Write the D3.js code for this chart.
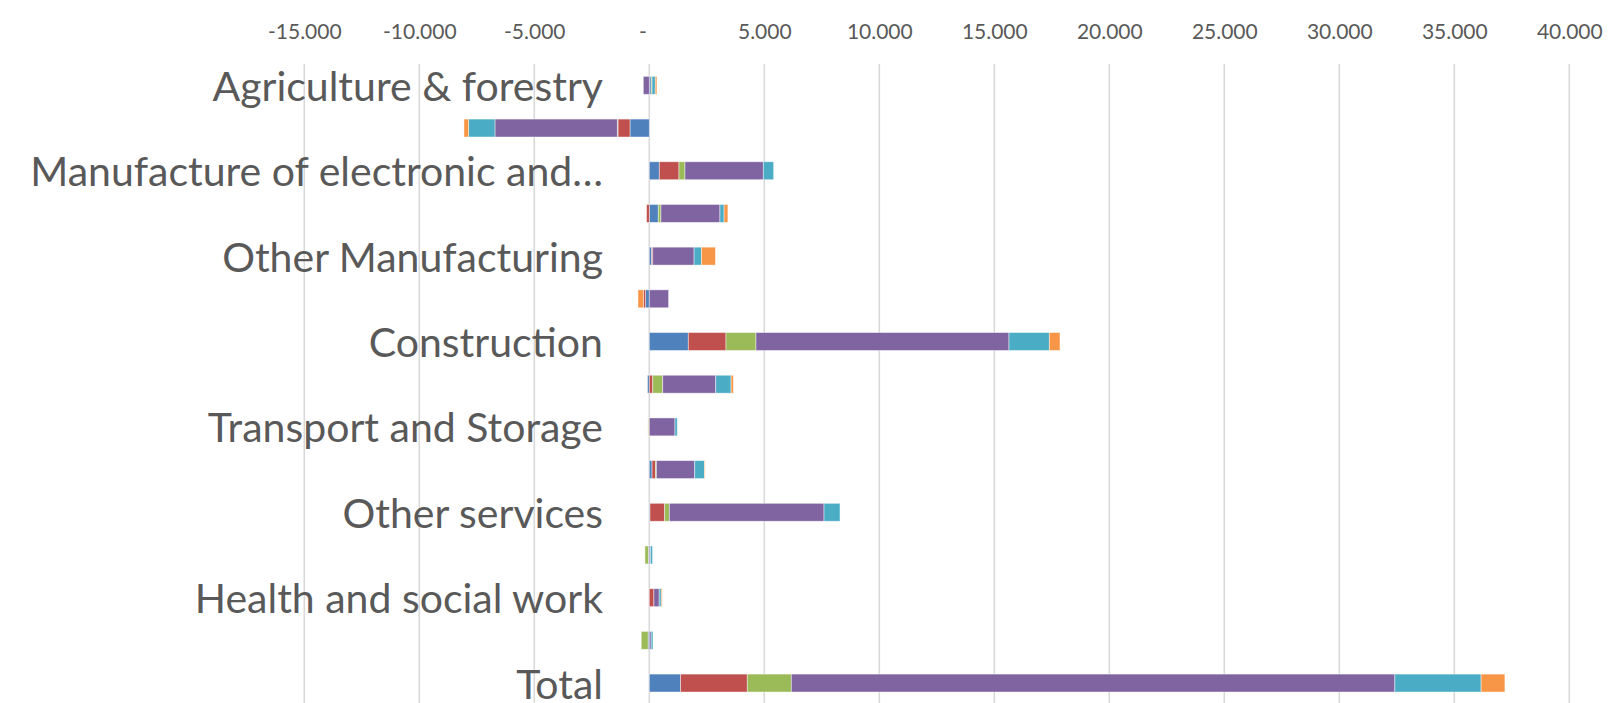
<!DOCTYPE html>
<html>
<head>
<meta charset="utf-8">
<script src="https://cdn.jsdelivr.net/npm/d3@7/dist/d3.min.js"></script>
<style>
  html, body { margin: 0; padding: 0; background: #ffffff; }
  svg { display: block; }
  text { font-family: Lato, "Open Sans", "Liberation Sans", sans-serif; fill: #595959; }
</style>
</head>
<body>
<svg id="chart" width="1613" height="703"></svg>
<script>
// Sectors, top to bottom
const sectors = [
  "Agriculture & forestry",
  "Manufacture of food products",
  "Manufacture of electronic and optical products",
  "Manufacture of machinery",
  "Other Manufacturing",
  "Energy and water supply",
  "Construction",
  "Wholesale and retail trade",
  "Transport and Storage",
  "Information and communication",
  "Other services",
  "Financial and insurance",
  "Health and social work",
  "Public administration",
  "Total"
];

// Series names (stack order, outwards from zero)
const seriesNames = ["2016", "2017", "2018", "2019", "2020", "2021"];

// Values per series, one entry per sector
const s2016 = [80, -840, 435, 390, 100, -160, 1696, -80, 0, 120, 30, -40, 0, -50, 1360];
const s2017 = [0, -522, 855, -120, 50, -100, 1638, 150, -30, 145, 638, 0, 200, 0, 2900];
const s2018 = [40, -30, 261, 116, 0, 0, 1304, 435, -30, 43, 203, -150, 0, -300, 1915];
const s2019 = [-260, -5319, 3406, 2565, 1797, 840, 11000, 2304, 1116, 1667, 6725, 50, 230, 80, 26240];
const s2020 = [140, -1145, 449, 180, 319, 0, 1754, 667, 100, 420, 696, 90, 90, 80, 3750];
const s2021 = [70, -203, 0, 165, 609, -232, 464, 100, 0, 30, 0, 0, 40, 0, 1035];

// Axis ticks
const tickValues = [-15000, -10000, -5000, 0, 5000, 10000, 15000, 20000, 25000, 30000, 35000, 40000];

const seriesValues = [s2016, s2017, s2018, s2019, s2020, s2021];
const colors = ["#4F81BD", "#C0504D", "#9BBB59", "#8064A2", "#4BACC6", "#F79646"];

const rows = sectors.map((name, i) => {
  const r = { sector: name };
  seriesNames.forEach((s, j) => { r[s] = seriesValues[j][i]; });
  return r;
});

const svg = d3.select("#chart");

const x = d3.scaleLinear()
  .domain([-15000, 40000])
  .range([304.3, 1569.3]);

const y = d3.scaleBand()
  .domain(sectors)
  .range([64, 704.4])
  .paddingInner(0.58)
  .paddingOuter(0.29);

// Vertical gridlines
svg.append("g")
  .selectAll("line")
  .data(tickValues)
  .join("line")
  .attr("x1", d => x(d)).attr("x2", d => x(d))
  .attr("y1", 64).attr("y2", 703)
  .attr("stroke", "#d9d9d9")
  .attr("stroke-width", 1.6);

// Top value axis: thousands with a dot, zero shown as a dash
const fmt = d => d === 0 ? "-" : d3.format(",")(d).replace(/,/g, ".").replace("\u2212", "-");
const xAxis = d3.axisTop(x)
  .tickValues(tickValues)
  .tickSize(0)
  .tickPadding(0)
  .tickFormat(fmt);

const axisG = svg.append("g")
  .attr("transform", "translate(0,39)")
  .call(xAxis);
axisG.select(".domain").remove();
axisG.selectAll("text")
  .style("font-size", "21px")
  .attr("fill", "#595959")
  .attr("dx", d => d === 0 ? -7 : 0);

// Stacked bars (negatives stack leftwards from zero)
const stack = d3.stack()
  .keys(seriesNames)
  .offset(d3.stackOffsetDiverging);
const layers = stack(rows);

svg.append("g")
  .selectAll("g")
  .data(layers)
  .join("g")
  .attr("fill", (d, i) => colors[i])
  .selectAll("rect")
  .data(d => d)
  .join("rect")
  .attr("x", d => x(Math.min(d[0], d[1])))
  .attr("width", d => Math.abs(x(d[1]) - x(d[0])))
  .attr("y", d => y(d.data.sector))
  .attr("height", y.bandwidth())
  .attr("stroke", "#ffffff")
  .attr("stroke-opacity", 0.55)
  .attr("stroke-width", 0.8);

// Category labels (every other sector), long names shortened with an ellipsis
const labelRight = 603;
const maxLabelWidth = 600;
const labelG = svg.append("g");
sectors.forEach((name, i) => {
  if (i % 2 !== 0) return;
  const t = labelG.append("text")
    .attr("x", labelRight)
    .attr("y", y(name) + y.bandwidth() / 2)
    .attr("text-anchor", "end")
    .attr("dominant-baseline", "central")
    .style("font-size", "41px")
    .text(name);
  if (t.node().getComputedTextLength() > maxLabelWidth) {
    const words = name.split(" ");
    while (words.length > 1) {
      words.pop();
      t.text(words.join(" ") + "…");
      if (t.node().getComputedTextLength() <= maxLabelWidth) break;
    }
  }
});
</script>
</body>
</html>
